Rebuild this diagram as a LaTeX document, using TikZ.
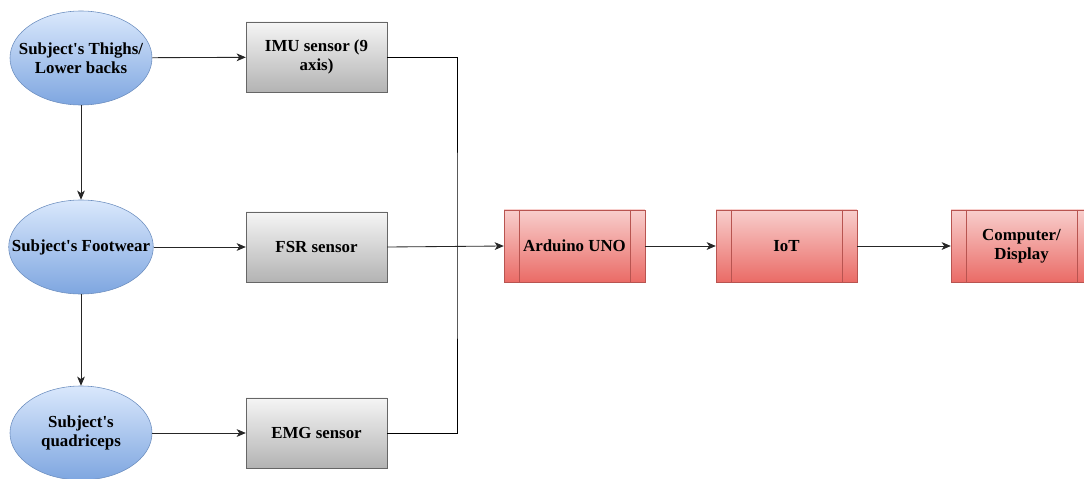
\documentclass[tikz,border=0pt]{standalone}
\usepackage{fontspec}
\setmainfont{Liberation Serif}
\usetikzlibrary{shapes,arrows,arrows.meta,positioning}
\definecolor{blueTop}{HTML}{DAE8FC}
\definecolor{blueBot}{HTML}{7EA6E0}
\definecolor{blueLine}{HTML}{6C8EBF}
\definecolor{grayTop}{HTML}{F5F5F5}
\definecolor{grayBot}{HTML}{B3B3B3}
\definecolor{grayLine}{HTML}{666666}
\definecolor{redTop}{HTML}{F8CECC}
\definecolor{redBot}{HTML}{EA6B66}
\definecolor{redLine}{HTML}{B85450}

\tikzset{
  txt/.style={font=\fontsize{12}{13.5}\selectfont\bfseries, align=center},
  partnode/.style={txt, ellipse, draw=blueLine, top color=blueTop, bottom color=blueBot, minimum width=3.55cm, minimum height=2.35cm, inner xsep=-0.45cm, inner ysep=0pt},
  sensorbox/.style={txt, draw=grayLine, top color=grayTop, bottom color=grayBot, minimum width=3.52cm, minimum height=1.75cm},
  procbox/.style={txt, draw=redLine, top color=redTop, bottom color=redBot, minimum width=3.52cm, minimum height=1.8cm,
    path picture={
      \draw[redLine] ([xshift=0.37cm]path picture bounding box.north west) -- ([xshift=0.37cm]path picture bounding box.south west);
      \draw[redLine] ([xshift=-0.37cm]path picture bounding box.north east) -- ([xshift=-0.37cm]path picture bounding box.south east);
    }},
  link/.style={-{Stealth[length=6.5pt,width=5.5pt,inset=1.8pt]}, black!85, semithick}
}

\begin{document}
\begin{tikzpicture}[x=0.025cm, y=-0.025cm]
  \useasboundingbox (0,0) rectangle (1084,479);

  % body parts
  \node[partnode] (thigh) at (81,58) {Subject\textquotesingle s Thighs/\\Lower backs};
  \node[partnode] (foot) at (81,247) {Subject\textquotesingle s Footwear};
  \node[partnode] (quad) at (81,433) {Subject\textquotesingle s\\quadriceps};

  % sensors
  \node[sensorbox] (imu) at (316.5,57) {IMU sensor (9\\axis)};
  \node[sensorbox] (fsr) at (316.5,247) {FSR sensor};
  \node[sensorbox] (emg) at (316.5,433) {EMG sensor};

  % processing chain
  \node[procbox] (ard) at (574.5,246) {Arduino UNO};
  \node[procbox] (iot) at (786.5,246) {IoT};
  \node[procbox] (comp) at (1021.5,246) {Computer/\\Display};

  \coordinate (bus) at (457,246);

  \draw[link] (thigh) -- (imu);
  \draw[link] (foot) -- (fsr);
  \draw[link] (quad) -- (emg);
  \draw[link] (thigh) -- (foot);
  \draw[link] (foot) -- (quad);

  \draw[black, semithick] (imu.east) -| (bus) |- (emg.east);
  \draw[link] (fsr.east) -- (ard.west);
  \draw[link] (ard) -- (iot);
  \draw[link] (iot) -- (comp);
\end{tikzpicture}
\end{document}
